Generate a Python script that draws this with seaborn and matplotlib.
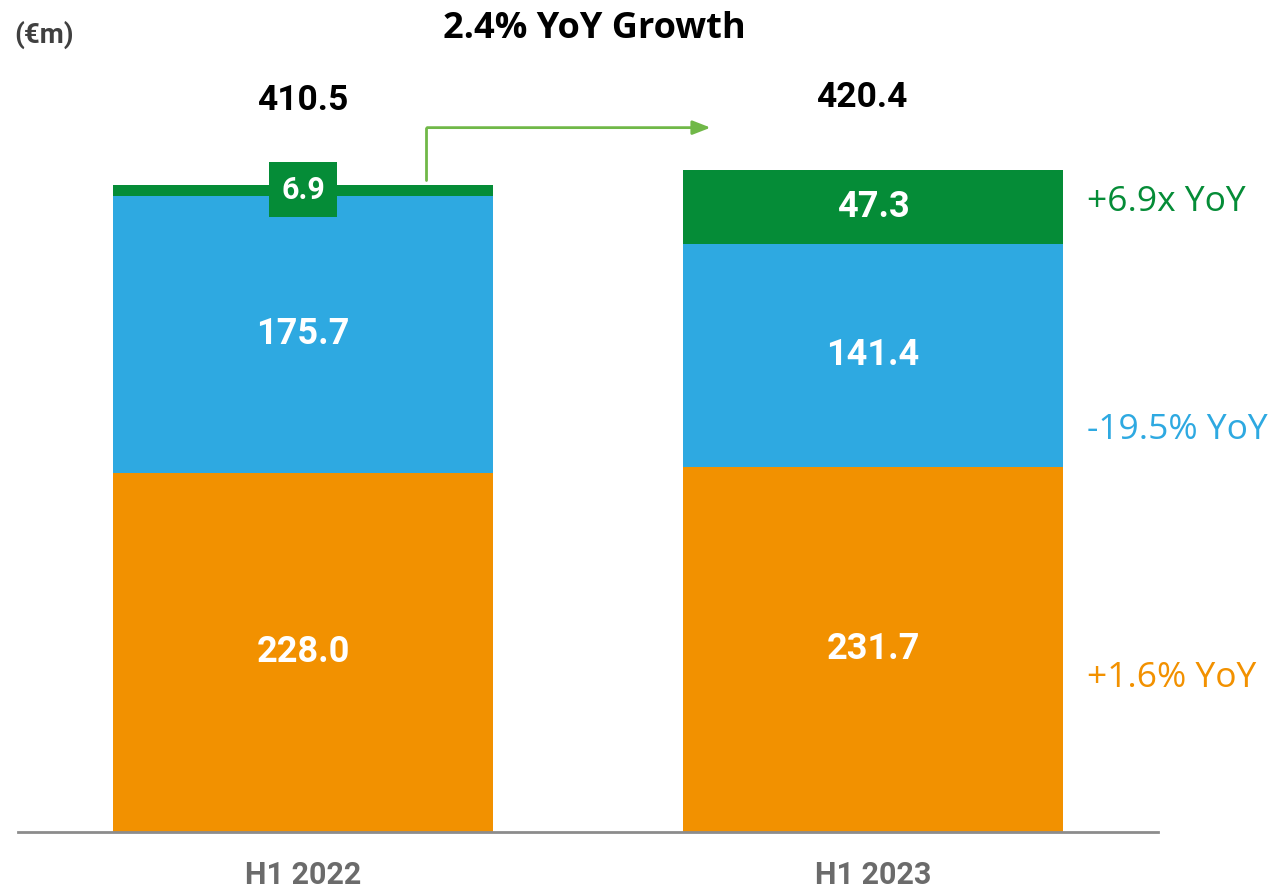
import numpy as np
import pandas as pd
import seaborn as sns
from matplotlib import pyplot as plt

# データ
periods = ["H1 2022", "H1 2023"]
orange_vals = [228.0, 231.7]
blue_vals = [175.7, 141.4]
green_vals = [6.9, 47.3]
totals = [410.5, 420.4]
yoy_labels = ["+6.9x YoY", "-19.5% YoY", "+1.6% YoY"]

c_orange = "#F29100"
c_blue = "#2EA9E1"
c_green = "#058C37"
c_arrow = "#70B848"

sns.set_theme(style="white")
plt.rcParams["font.family"] = ["Roboto", "DejaVu Sans"]

df = pd.DataFrame({"period": periods, "orange": orange_vals,
                   "blue": blue_vals, "green": green_vals})
df["ob"] = df["orange"] + df["blue"]
df["obg"] = df["ob"] + df["green"]

fig = plt.figure(figsize=(12.73, 8.89), dpi=100)
ax = fig.add_axes([18 / 1273, 57 / 889, 1140 / 1273, 832 / 889])

# 積み上げ棒(累積値を上から重ねる)
w = 0.665
bar_kw = dict(x="period", width=w, saturation=1, linewidth=0, ax=ax)
sns.barplot(data=df, y="obg", color=c_green, **bar_kw)
sns.barplot(data=df, y="ob", color=c_blue, **bar_kw)
sns.barplot(data=df, y="orange", color=c_orange, **bar_kw)

ax.set_xlim(-0.5, 1.5)
ax.set_ylim(0, 528)
ax.set_xlabel("")
ax.set_ylabel("")
ax.set_yticks([])
for s in ["top", "left", "right"]:
    ax.spines[s].set_visible(False)
ax.spines["bottom"].set_color("#8C8C8C")
ax.spines["bottom"].set_linewidth(2)
ax.tick_params(axis="x", length=0, pad=20, labelsize=22, colors="#6B6B6B")
for t in ax.get_xticklabels():
    t.set_fontweight("bold")

# 棒の中の数値
num_kw = dict(ha="center", va="center", color="white", fontsize=26, fontweight="bold")
for i in range(2):
    ax.text(i, orange_vals[i] / 2, f"{orange_vals[i]:.1f}", **num_kw)
    ax.text(i, orange_vals[i] + blue_vals[i] / 2, f"{blue_vals[i]:.1f}", **num_kw)
ax.text(1, df["ob"][1] + green_vals[1] / 2, f"{green_vals[1]:.1f}", **num_kw)
ax.text(0, df["obg"][0] - 3, f"{green_vals[0]:.1f}", ha="center", va="center",
        color="white", fontsize=22, fontweight="bold",
        bbox=dict(boxstyle="square,pad=0.4", fc=c_green, ec="none"))

# 合計
ax.text(0, 464, f"{totals[0]:.1f}", ha="center", va="center", fontsize=25.5,
        fontweight="bold", color="black")
ax.text(0.98, 466, f"{totals[1]:.1f}", ha="center", va="center", fontsize=25.5,
        fontweight="bold", color="black")

# 矢印
ax.plot([0.215, 0.215], [df["obg"][0] + 3, 447], color=c_arrow, lw=2)
ax.annotate("", xy=(0.72, 447), xytext=(0.213, 447),
            arrowprops=dict(arrowstyle="-|>,head_length=0.9,head_width=0.35",
                            color=c_arrow, lw=2))

# 右側の前年比
yoy_kw = dict(ha="left", va="center", fontsize=25.5, family=["Open Sans", "DejaVu Sans"])
ax.text(1.376, 400, yoy_labels[0], color=c_green, **yoy_kw)
ax.text(1.376, 255, yoy_labels[1], color=c_blue, **yoy_kw)
ax.text(1.376, 98, yoy_labels[2], color=c_orange, **yoy_kw)

fig.text(594 / 1273, 1 - 29 / 889, "2.4% YoY Growth", ha="center", va="center",
         fontsize=26, fontweight="bold", color="black",
         family=["Open Sans", "DejaVu Sans"])
fig.text(14 / 1273, 1 - 35 / 889, "(€m)", ha="left", va="center", fontsize=20,
         fontweight="bold", color="#404040")

fig.savefig("out.png", dpi=100)
